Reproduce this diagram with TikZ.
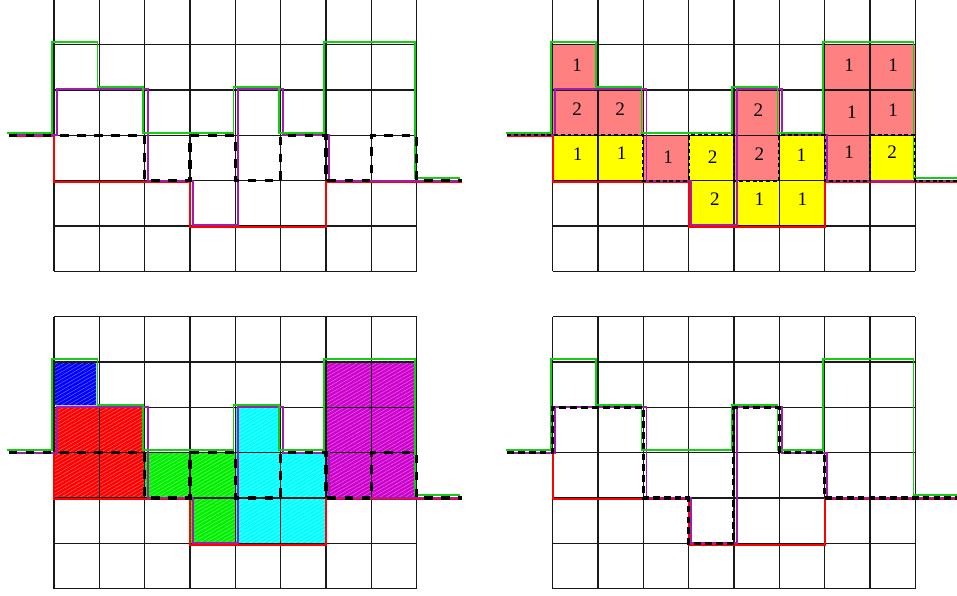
\documentclass[tikz,border=0pt]{standalone}
\usepackage{fontspec}
\setmainfont{Liberation Serif}
\usetikzlibrary{patterns.meta}
\definecolor{cgreen}{RGB}{20,205,20}
\definecolor{cpurple}{RGB}{160,30,170}
\definecolor{csalmon}{RGB}{255,128,128}
\definecolor{cyel}{RGB}{255,255,0}
\definecolor{cmag}{RGB}{205,0,205}
\definecolor{chgreen}{RGB}{0,240,0}
\definecolor{ccyan}{RGB}{0,255,255}
\definecolor{cblue}{RGB}{0,0,255}
\definecolor{cred}{RGB}{255,0,0}
\tikzset{
 gridline/.style={line width=0.7pt, draw=black!90},
 gline/.style={draw=cgreen, line width=1.15pt},
 pline/.style={draw=cpurple, line width=1.1pt},
 rline/.style={draw=cred, line width=1.1pt},
 dashA/.style={draw=black, line width=2pt, dash pattern=on 5.5pt off 5.2pt},
 dashB/.style={draw=black, line width=1.2pt, dash pattern=on 2.4pt off 1.8pt},
 dashC/.style={draw=black, line width=1.9pt, dash pattern=on 4.2pt off 2.6pt},
 hatch/.style={fill=#1, postaction={pattern={Lines[angle=30,distance=2pt,line width=0.35pt]}, pattern color=white!40!#1}},
 num/.style={font=\fontsize{12}{14}\selectfont, inner sep=0pt},
 cellS/.style={fill=csalmon},
 cellY/.style={fill=cyel},
}
\newcommand\profG{(-1.03,3.06) -- (-0.04,3.06) -- (-0.04,5.06) -- (0.96,5.06) -- (0.96,4.06) -- (1.96,4.06) -- (1.96,3.06) -- (3.96,3.06) -- (3.96,4.06) -- (4.96,4.06) -- (4.96,3.06) -- (5.96,3.06) -- (5.96,5.06) -- (7.96,5.06) -- (7.96,2.06) -- (8.96,2.06)}
\newcommand\profP{(-1,3) -- (0.06,3) -- (0.06,4.015) -- (2.07,4.015) -- (2.07,2) -- (3.06,2) -- (3.06,1.015) -- (4.06,1.015) -- (4.06,4.015) -- (5.06,4.015) -- (5.06,3) -- (6.06,3) -- (6.06,2) -- (9,2)}
\newcommand\profR{(-1,2.98) -- (0,2.98) -- (0,1.97) -- (3,1.97) -- (3,0.97) -- (6,0.97) -- (6,1.97) -- (9,1.97)}
\newcommand\profZ{(-1,3) -- (2,3) -- (2,2) -- (3,2) -- (3,3) -- (4,3) -- (4,2) -- (5,2) -- (5,3) -- (6,3) -- (6,2) -- (7,2) -- (7,3) -- (8,3) -- (8,2) -- (9,2)}
\newcommand\profQ{(-1,3) -- (0,3) -- (0,4) -- (2,4) -- (2,2) -- (3,2) -- (3,1) -- (4,1) -- (4,4) -- (5,4) -- (5,3) -- (6,3) -- (6,2) -- (9,2)}
\begin{document}
\begin{tikzpicture}
\useasboundingbox (-1.19,-7.14) rectangle (19.92,5.985);
% ---------- top-left panel ----------
\begin{scope}
\draw[gridline] (0,0) grid (8,6);
\draw[rline] \profR;
\draw[pline] \profP;
\draw[gline] \profG;
\draw[dashA] \profZ;
\end{scope}
% ---------- top-right panel ----------
\begin{scope}[shift={(11,0)}]
\foreach \c/\r in {0/4,0/3,1/3,2/2,4/3,4/2,6/4,7/4,6/3,7/3,6/2}
  \fill[cellS] (\c,\r) rectangle ++(1,1);
\foreach \c/\r in {0/2,1/2,3/2,5/2,7/2,3/1,4/1,5/1}
  \fill[cellY] (\c,\r) rectangle ++(1,1);
\draw[gridline] (0,0) grid (8,6);
\draw[rline] \profR;
\draw[pline] \profP;
\draw[gline] \profG;
\draw[dashB] \profZ;
\node[num] (n1) at (0.54,4.54) {1};
\node[num] (n2) at (0.54,3.57) {2};
\node[num] (n3) at (1.49,3.57) {2};
\node[num] (n4) at (4.54,3.55) {2};
\node[num] (n5) at (6.54,4.54) {1};
\node[num] (n6) at (7.51,4.54) {1};
\node[num] (n7) at (6.60,3.51) {1};
\node[num] (n8) at (7.51,3.55) {1};
\node[num] (n9) at (0.55,2.58) {1};
\node[num] (n10) at (1.52,2.60) {1};
\node[num] (n11) at (2.55,2.52) {1};
\node[num] (n12) at (3.53,2.52) {2};
\node[num] (n13) at (4.56,2.58) {2};
\node[num] (n14) at (5.49,2.56) {1};
\node[num] (n15) at (6.54,2.62) {1};
\node[num] (n16) at (7.49,2.63) {2};
\node[num] (n17) at (3.58,1.60) {2};
\node[num] (n18) at (4.56,1.60) {1};
\node[num] (n19) at (5.51,1.60) {1};
\end{scope}
% ---------- bottom-left panel ----------
\begin{scope}[shift={(0,-7)}]
\path[hatch=cblue] (0,4.04) rectangle (0.95,5);
\draw[cblue!25!white, line width=0.5pt] (0.02,4.05) rectangle (0.94,4.99);
\path[hatch=cred] (0,2) rectangle (2,4);
\path[hatch=chgreen] (2,2) -- (2,3) -- (4,3) -- (4,1) -- (3,1) -- (3,2) -- cycle;
\path[hatch=ccyan] (4,1) -- (4,4) -- (5,4) -- (5,3) -- (6,3) -- (6,1) -- cycle;
\path[hatch=cmag] (6,2) rectangle (8,5);
\draw[gridline] (0,0) grid (8,6);
\draw[rline] \profR;
\draw[pline] \profP;
\draw[gline] \profG;
\draw[dashA] \profZ;
\end{scope}
% ---------- bottom-right panel ----------
\begin{scope}[shift={(11,-7)}]
\draw[gridline] (0,0) grid (8,6);
\draw[rline] \profR;
\draw[pline] \profP;
\draw[gline] \profG;
\draw[dashC] \profQ;
\end{scope}
\end{tikzpicture}
\end{document}
